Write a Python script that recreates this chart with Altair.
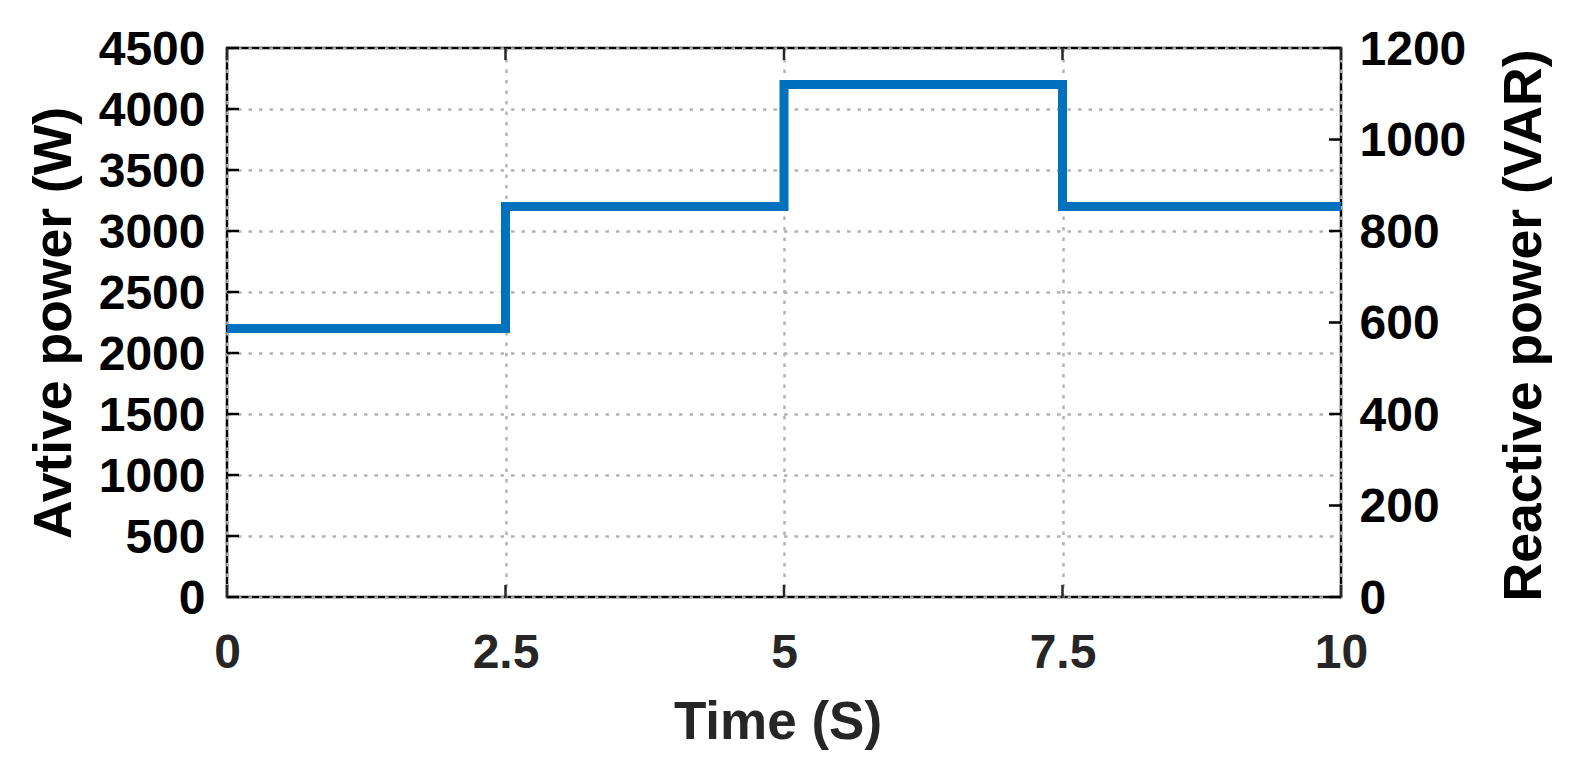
import altair as alt
import pandas as pd

# ---- data ----
time_s = [0, 2.5, 5, 7.5, 10]
active_w = [2200, 3200, 4200, 3200, 3200]

x_ticks = [0, 2.5, 5, 7.5, 10]
left_ticks = [0, 500, 1000, 1500, 2000, 2500, 3000, 3500, 4000, 4500]
right_ticks = [0, 200, 400, 600, 800, 1000, 1200]

X_DOMAIN = [0, 10]
LEFT_DOMAIN = [0, 4500]
RIGHT_DOMAIN = [0, 1200]

df = pd.DataFrame({"t": time_s, "p": active_w})

FONT = "Liberation Sans"
W, H = 1114, 549
TICK = 12
GRID = dict(gridColor="#b3b3b3", gridDash=[3.5, 7], gridWidth=2.5)
NOFLUSH = dict(labelFlush=False, labelOverlap=False, labelBound=False)

line = alt.Chart(df).mark_line(
    interpolate="step-after", color="#0072BD", strokeWidth=9, strokeJoin="miter"
).encode(
    x=alt.X(
        "t:Q",
        scale=alt.Scale(domain=X_DOMAIN, nice=False, zero=False),
        axis=alt.Axis(
            orient="bottom", values=x_ticks, labelExpr="'' + datum.value", title="Time (S)",
            ticks=False, tickSize=0, domain=False, grid=True, **GRID, **NOFLUSH,
            labelColor="#262626", labelPadding=32, labelFontSize=48,
            titleColor="#262626", titleFontSize=53,
            titleX=550.5, titleY=141, titleBaseline="alphabetic", titleAlign="center",
        ),
    ),
    y=alt.Y(
        "p:Q",
        scale=alt.Scale(domain=LEFT_DOMAIN, nice=False),
        axis=alt.Axis(
            orient="left", values=left_ticks, format="d", title="Avtive power (W)",
            ticks=False, tickSize=0, domain=False, grid=True, **GRID, **NOFLUSH,
            labelColor="black", labelPadding=22, labelFontSize=48, labelOffset=2,
            titleColor="black", titleFontSize=53.5, titleAngle=270,
            titleX=-157, titleY=274.5, titleBaseline="alphabetic", titleAlign="center",
        ),
    ),
)

aux = alt.Chart(pd.DataFrame({"q": right_ticks})).mark_point(opacity=0).encode(
    y=alt.Y(
        "q:Q",
        scale=alt.Scale(domain=RIGHT_DOMAIN, nice=False),
        axis=alt.Axis(
            orient="right", values=right_ticks, format="d", title="Reactive power (VAR)",
            ticks=False, tickSize=0, domain=False, grid=False, **NOFLUSH,
            labelColor="black", labelPadding=18, labelFontSize=48, labelOffset=2,
            titleColor="black", titleFontSize=53.5, titleAngle=270,
            titleX=199, titleY=277, titleBaseline="alphabetic", titleAlign="center",
        ),
    ),
)


def y_ticks(vals, domain, x0, x1, color):
    return alt.Chart(pd.DataFrame({"v": vals})).mark_rule(color=color, strokeWidth=2.5).encode(
        y=alt.Y("v:Q", scale=alt.Scale(domain=domain, nice=False), axis=None),
        x=alt.value(x0), x2=alt.value(x1),
    )


def x_tick_marks(vals, y0, y1, color):
    return alt.Chart(pd.DataFrame({"v": vals})).mark_rule(color=color, strokeWidth=2.5).encode(
        x=alt.X("v:Q", scale=alt.Scale(domain=X_DOMAIN, nice=False, zero=False), axis=None),
        y=alt.value(y0), y2=alt.value(y1),
    )


left_t = y_ticks(left_ticks, LEFT_DOMAIN, 0, TICK, "black")
right_t = y_ticks(right_ticks, RIGHT_DOMAIN, W - TICK, W, "black")
bottom_t = x_tick_marks(x_ticks, H - TICK, H, "#262626")
top_t = x_tick_marks(x_ticks, 0, TICK, "#262626")

chart = alt.layer(line, aux, left_t, right_t, bottom_t, top_t).resolve_scale(
    x="independent", y="independent"
).properties(
    width=W, height=H,
    autosize=alt.AutoSizeParams(type="none"),
    padding={"left": 219, "top": 40, "right": 225, "bottom": 166},
    background="white",
).configure_view(
    stroke="black", strokeWidth=2.5
).configure_axis(
    labelFont=FONT, titleFont=FONT, labelFontWeight="bold", titleFontWeight="bold",
)

chart.save("out.html", embed_options={"renderer": "svg", "actions": False})
